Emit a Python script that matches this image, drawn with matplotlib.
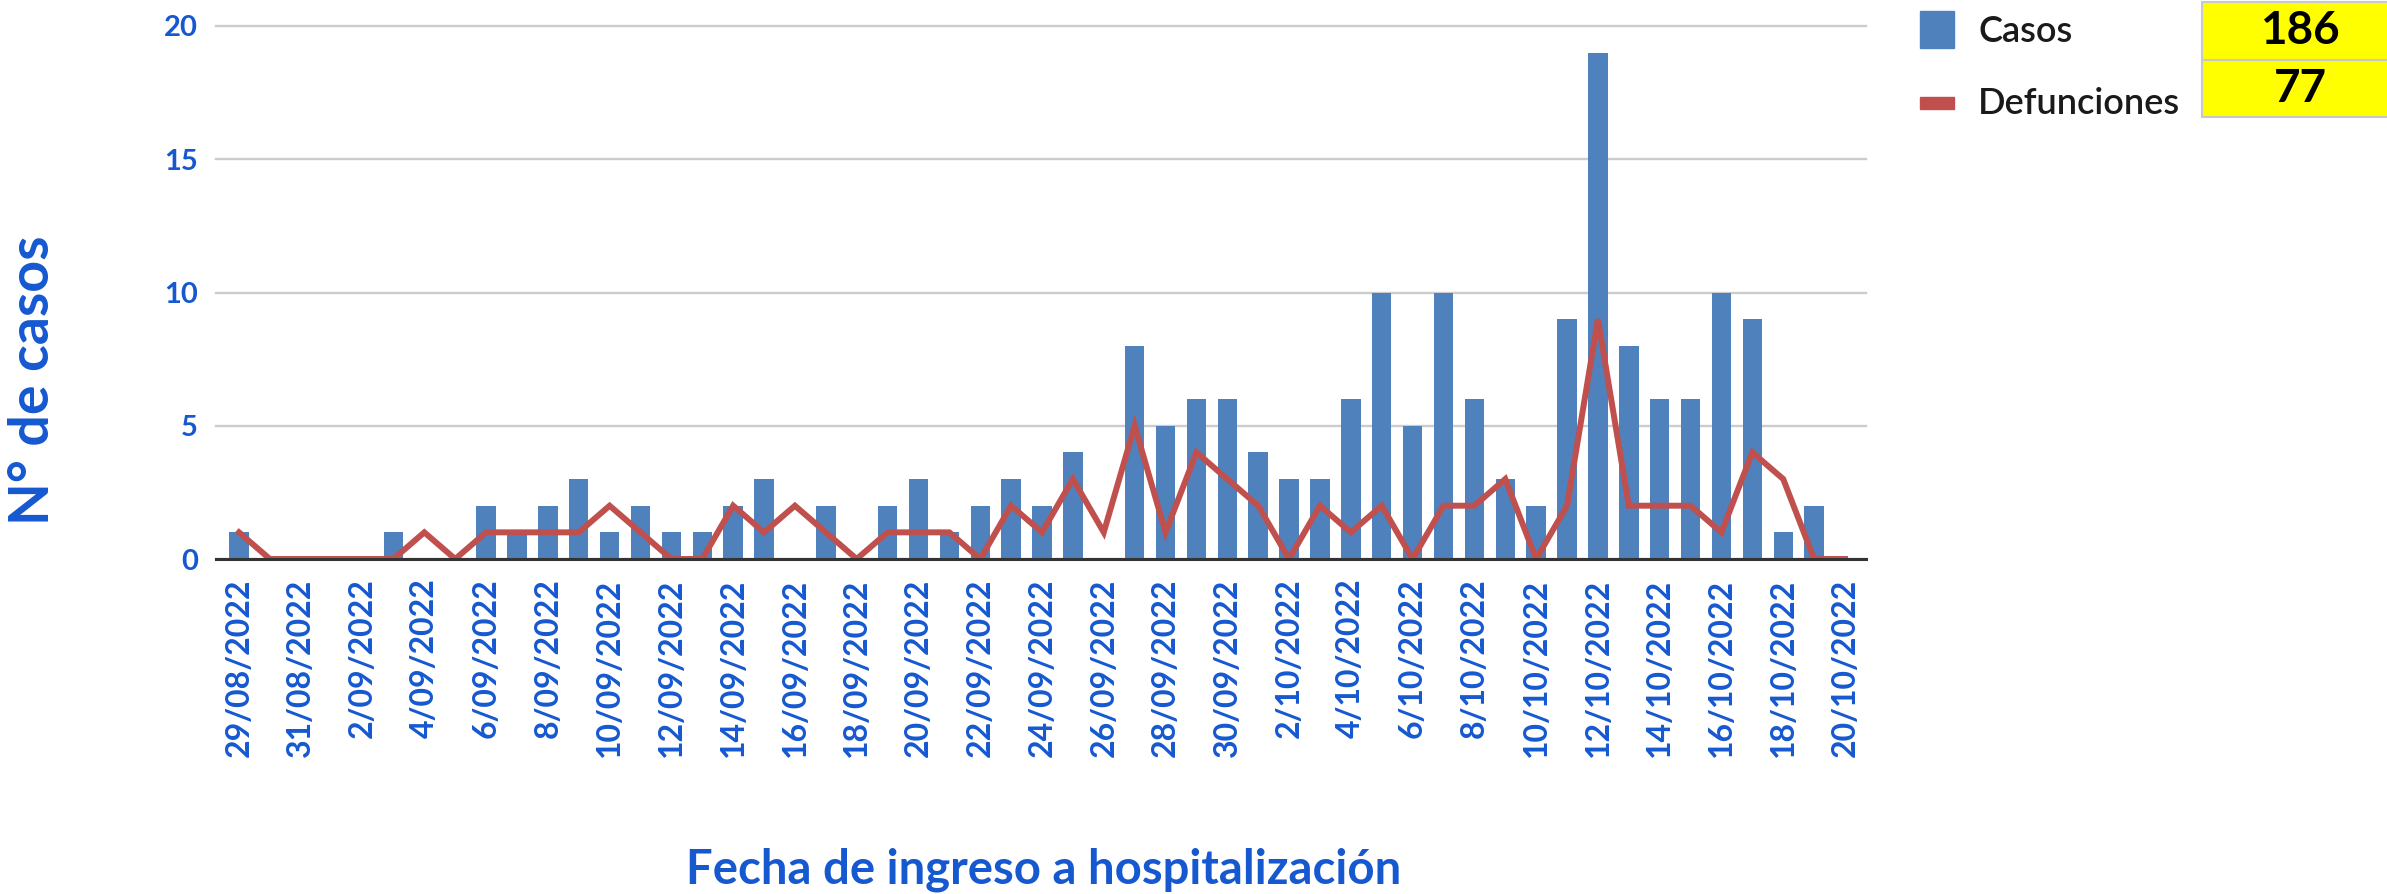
import numpy as np
import matplotlib
matplotlib.use("Agg")
import matplotlib.pyplot as plt
from matplotlib.patches import Rectangle

# ======================
# DATA
# ======================
casos = [1, 0, 0, 0, 0, 1, 0, 0, 2, 1, 2, 3, 1, 2, 1, 1,
         2, 3, 0, 2, 0, 2, 3, 1, 2, 3, 2, 4, 0, 8,
         5, 6, 6, 4, 3, 3, 6, 10, 5, 10, 6, 3, 2, 9, 19,
         8, 6, 6, 10, 9, 1, 2, 0]
defunciones = [1, 0, 0, 0, 0, 0, 1, 0, 1, 1, 1, 1, 2, 1, 0, 0,
               2, 1, 2, 1, 0, 1, 1, 1, 0, 2, 1, 3, 1, 5,
               1, 4, 3, 2, 0, 2, 1, 2, 0, 2, 2, 3, 0, 2, 9,
               2, 2, 2, 1, 4, 3, 0, 0]
tick_labels = ["29/08/2022", "31/08/2022", "2/09/2022", "4/09/2022", "6/09/2022",
               "8/09/2022", "10/09/2022", "12/09/2022", "14/09/2022", "16/09/2022",
               "18/09/2022", "20/09/2022", "22/09/2022", "24/09/2022", "26/09/2022",
               "28/09/2022", "30/09/2022", "2/10/2022", "4/10/2022", "6/10/2022",
               "8/10/2022", "10/10/2022", "12/10/2022", "14/10/2022", "16/10/2022",
               "18/10/2022", "20/10/2022"]
y_ticks = [0, 5, 10, 15, 20]

# ======================
# STYLE
# ======================
W, H = 2387, 894
BLUE_BAR = "#4F81BD"
RED_LINE = "#C0504D"
TXT_BLUE = "#1558D0"
FONT = ["Lato", "DejaVu Sans"]
plt.rcParams["font.family"] = FONT

fig = plt.figure(figsize=(W / 100, H / 100), dpi=100)
ax = fig.add_axes([216 / W, 1 - 559 / H, (1866 - 216) / W, (559 - 26) / H])

x = np.arange(len(casos))
ax.bar(x, casos, width=0.63, color=BLUE_BAR, zorder=2)
ax.plot(x, defunciones, color=RED_LINE, lw=4.3, zorder=3, solid_joinstyle="miter")

ax.set_xlim(-0.745, 52.68)
ax.set_ylim(0, 20)

ax.set_yticks(y_ticks)
ax.set_xticks(x[::2])
ax.set_xticklabels(tick_labels, rotation=90, va="top", ha="center")
ax.tick_params(axis="both", length=0, labelcolor=TXT_BLUE)
ax.tick_params(axis="x", pad=14, labelsize=23)
ax.tick_params(axis="y", pad=13, labelsize=21)
for lbl in ax.get_xticklabels() + ax.get_yticklabels():
    lbl.set_fontweight("bold")

ax.grid(axis="y", color="#CCCCCC", lw=1.7, zorder=0)
for gl in ax.get_ygridlines():
    gl.set_clip_on(False)
ax.set_axisbelow(True)

for s in ["top", "right", "left"]:
    ax.spines[s].set_visible(False)
ax.spines["bottom"].set_color("#333333")
ax.spines["bottom"].set_linewidth(2.2)
ax.spines["bottom"].set_zorder(4)

# axis titles
fig.text(33 / W, 1 - 380 / H, "N° de casos", rotation=90, ha="center", va="center",
         fontsize=40, fontweight="bold", color=TXT_BLUE)
fig.text(1044 / W, 1 - 870 / H, "Fecha de ingreso a hospitalización", ha="center",
         va="center", fontsize=34, fontweight="bold", color=TXT_BLUE)

# legend (manual)
fig.patches.append(Rectangle((1920 / W, 1 - 48 / H), 34 / W, 37 / H,
                             transform=fig.transFigure, color=BLUE_BAR))
fig.patches.append(Rectangle((1920 / W, 1 - 109 / H), 34 / W, 12 / H,
                             transform=fig.transFigure, color=RED_LINE))
fig.text(1978 / W, 1 - 32 / H, "Casos", ha="left", va="center", fontsize=26,
         fontweight="semibold", color="#1a1a1a")
fig.text(1978 / W, 1 - 103 / H, "Defunciones", ha="left", va="center", fontsize=26,
         fontweight="semibold", color="#1a1a1a")

# totals box
for top, bot, val in [(2, 60, sum(casos)), (60, 117, sum(defunciones))]:
    fig.patches.append(Rectangle((2202 / W, 1 - bot / H), 200 / W, (bot - top) / H,
                                 transform=fig.transFigure, facecolor="#FFFF00",
                                 edgecolor="#C8C8C8", lw=1.5))
    fig.text(2300 / W, 1 - (top + bot) / 2 / H, str(val), ha="center", va="center",
             fontsize=33, fontweight="bold", color="black")

fig.savefig("out.png", dpi=100, facecolor="white")
